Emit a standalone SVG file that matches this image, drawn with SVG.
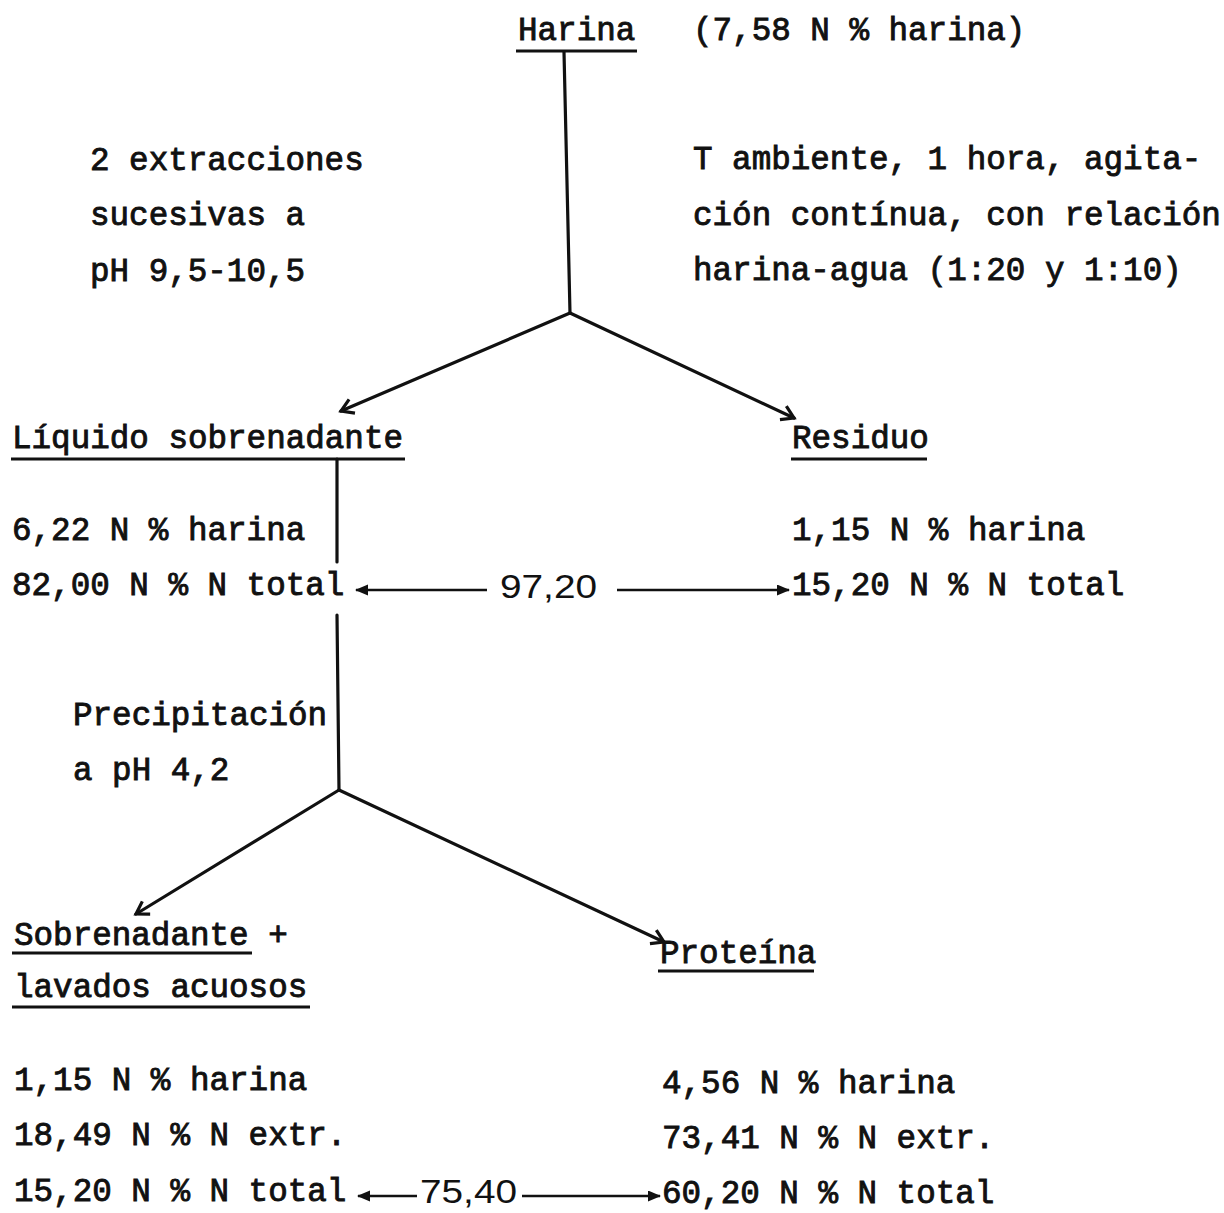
<svg xmlns="http://www.w3.org/2000/svg" width="1224" height="1213" viewBox="0 0 1224 1213">
<style>
  .t { font-family: "Liberation Mono", "DejaVu Sans Mono", monospace; font-size: 32.6px; fill: #111; stroke: #111; stroke-width: 0.9px; }
  .n { font-family: "Liberation Sans", Arial, sans-serif; font-size: 33px; fill: #111; }
  .u { stroke: #111; stroke-width: 3; fill: none; }
  .c { stroke: #111; stroke-width: 3.2; fill: none; stroke-linecap: round; }
  .h { stroke: #111; stroke-width: 2.6; fill: none; }
</style>
<defs>
  <marker id="open" markerUnits="userSpaceOnUse" markerWidth="22" markerHeight="22" refX="15" refY="9" orient="auto">
    <path d="M3,1.5 L15,9 L3,16.5" fill="none" stroke="#111" stroke-width="3.2" stroke-linejoin="miter"/>
  </marker>
  <marker id="solid" markerUnits="userSpaceOnUse" markerWidth="16" markerHeight="12" refX="12" refY="5.5" orient="auto">
    <path d="M0,0 L13,5.5 L0,11 z" fill="#111"/>
  </marker>
</defs>
<rect width="1224" height="1213" fill="#fff"/>

<g id="connectors">
  <line class="c" x1="564" y1="52" x2="570" y2="313"/>
  <line class="c" x1="570" y1="313" x2="341" y2="411" marker-end="url(#open)"/>
  <line class="c" x1="570" y1="313" x2="794" y2="418" marker-end="url(#open)"/>
  <line class="c" x1="337" y1="459" x2="337" y2="562"/>
  <line class="c" x1="337" y1="615" x2="339" y2="790"/>
  <line class="c" x1="339" y1="790" x2="136" y2="914" marker-end="url(#open)"/>
  <line class="c" x1="339" y1="790" x2="664" y2="942" marker-end="url(#open)"/>
  <line class="h" x1="487" y1="590" x2="356" y2="590" marker-end="url(#solid)"/>
  <line class="h" x1="617" y1="590" x2="789" y2="590" marker-end="url(#solid)"/>
  <line class="h" x1="417" y1="1196" x2="358" y2="1196" marker-end="url(#solid)"/>
  <line class="h" x1="522" y1="1196" x2="660" y2="1196" marker-end="url(#solid)"/>
</g>

<g id="harina">
  <text class="t" x="518" y="40">Harina</text>
  <line class="u" x1="516" y1="51" x2="637" y2="51"/>
  <text class="t" x="693" y="40">(7,58 N % harina)</text>
</g>

<g id="extraccion-left">
  <text class="t" x="90" y="170">2 extracciones</text>
  <text class="t" x="90" y="225">sucesivas a</text>
  <text class="t" x="90" y="281">pH 9,5-10,5</text>
</g>

<g id="extraccion-right">
  <text class="t" x="693" y="169">T ambiente, 1 hora, agita-</text>
  <text class="t" x="693" y="225">ción contínua, con relación</text>
  <text class="t" x="693" y="280">harina-agua (1:20 y 1:10)</text>
</g>

<g id="liquido">
  <text class="t" x="12" y="448">Líquido sobrenadante</text>
  <line class="u" x1="11" y1="459" x2="405" y2="459"/>
  <text class="t" x="12" y="540">6,22 N % harina</text>
  <text class="t" x="12" y="595">82,00 N % N total</text>
</g>

<g id="residuo">
  <text class="t" x="792" y="448">Residuo</text>
  <line class="u" x1="791" y1="459" x2="927" y2="459"/>
  <text class="t" x="792" y="540">1,15 N % harina</text>
  <text class="t" x="792" y="595">15,20 N % N total</text>
</g>

<g id="balance1">
  <text class="n" x="500" y="598" textLength="97" lengthAdjust="spacingAndGlyphs">97,20</text>
</g>

<g id="precipitacion">
  <text class="t" x="73" y="725">Precipitación</text>
  <text class="t" x="73" y="780">a pH 4,2</text>
</g>

<g id="sobrenadante">
  <text class="t" x="14" y="945">Sobrenadante +</text>
  <line class="u" x1="12" y1="953" x2="252" y2="953"/>
  <text class="t" x="14" y="997">lavados acuosos</text>
  <line class="u" x1="12" y1="1007" x2="310" y2="1007"/>
  <text class="t" x="14" y="1090">1,15 N % harina</text>
  <text class="t" x="14" y="1145">18,49 N % N extr.</text>
  <text class="t" x="14" y="1201">15,20 N % N total</text>
</g>

<g id="proteina">
  <text class="t" x="660" y="963">Proteína</text>
  <line class="u" x1="658" y1="971" x2="814" y2="971"/>
  <text class="t" x="662" y="1093">4,56 N % harina</text>
  <text class="t" x="662" y="1148">73,41 N % N extr.</text>
  <text class="t" x="662" y="1203">60,20 N % N total</text>
</g>

<g id="balance2">
  <text class="n" x="420" y="1203" textLength="97" lengthAdjust="spacingAndGlyphs">75,40</text>
</g>
</svg>
